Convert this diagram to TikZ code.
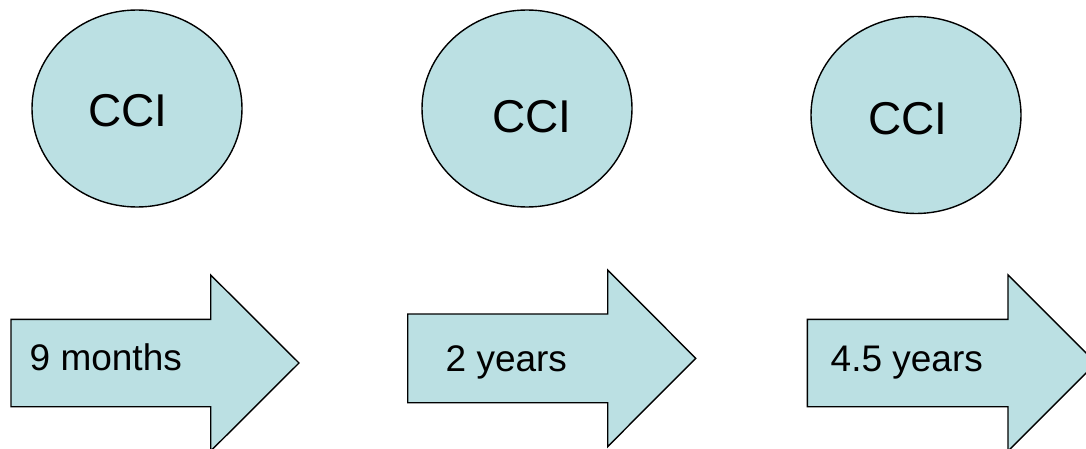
\documentclass[tikz,border=0pt]{standalone}
\usepackage{fontspec}
\setmainfont{Liberation Sans}
\usetikzlibrary{shapes.geometric}
\definecolor{cellfill}{RGB}{187,224,227}
\tikzset{
  stage/.style={ellipse, draw=black, fill=cellfill, line width=1.4pt,
    minimum width=210pt, minimum height=197pt, inner sep=0pt},
  stagetext/.style={anchor=base west, inner sep=0pt, font=\fontsize{46pt}{50pt}\selectfont},
  span/.style={draw=black, fill=cellfill, line width=1.4pt, line join=miter},
  spantext/.style={anchor=base west, inner sep=0pt, font=\fontsize{37pt}{41pt}\selectfont}
}
\begin{document}
\begin{tikzpicture}[x=1pt, y=-1pt]
  \clip (0,0) rectangle (1086,449);
  \fill[white] (0,0) rectangle (1086,449);

  % stage circles
  \node[stage] (c1) at (137,108.5) {};
  \node[stage] (c2) at (527,108.5) {};
  \node[stage] (c3) at (916,115) {};
  \node[stagetext] (t1) at (88,127) {CCI};
  \node[stagetext] (t2) at (492,133) {CCI};
  \node[stagetext] (t3) at (868,135) {CCI};

  % time-span block arrows
  \draw[span] (11,319.3) -- (210.7,319.3) -- (210.7,275) -- (299,363) -- (210.7,451) -- (210.7,406.7) -- (11,406.7) -- cycle;
  \draw[span] (407.7,314) -- (607.7,314) -- (607.7,270) -- (695.7,358.3) -- (607.7,446.6) -- (607.7,402.7) -- (407.7,402.7) -- cycle;
  \draw[span] (807.3,319.3) -- (1008,319.3) -- (1008,275) -- (1096,363) -- (1008,451) -- (1008,406.7) -- (807.3,406.7) -- cycle;

  \node[spantext] (a1) at (29.5,370.5) {9 months};
  \node[spantext] (a2) at (445.5,371) {2 years};
  \node[spantext] (a3) at (830.5,371) {4.5 years};
\end{tikzpicture}
\end{document}
